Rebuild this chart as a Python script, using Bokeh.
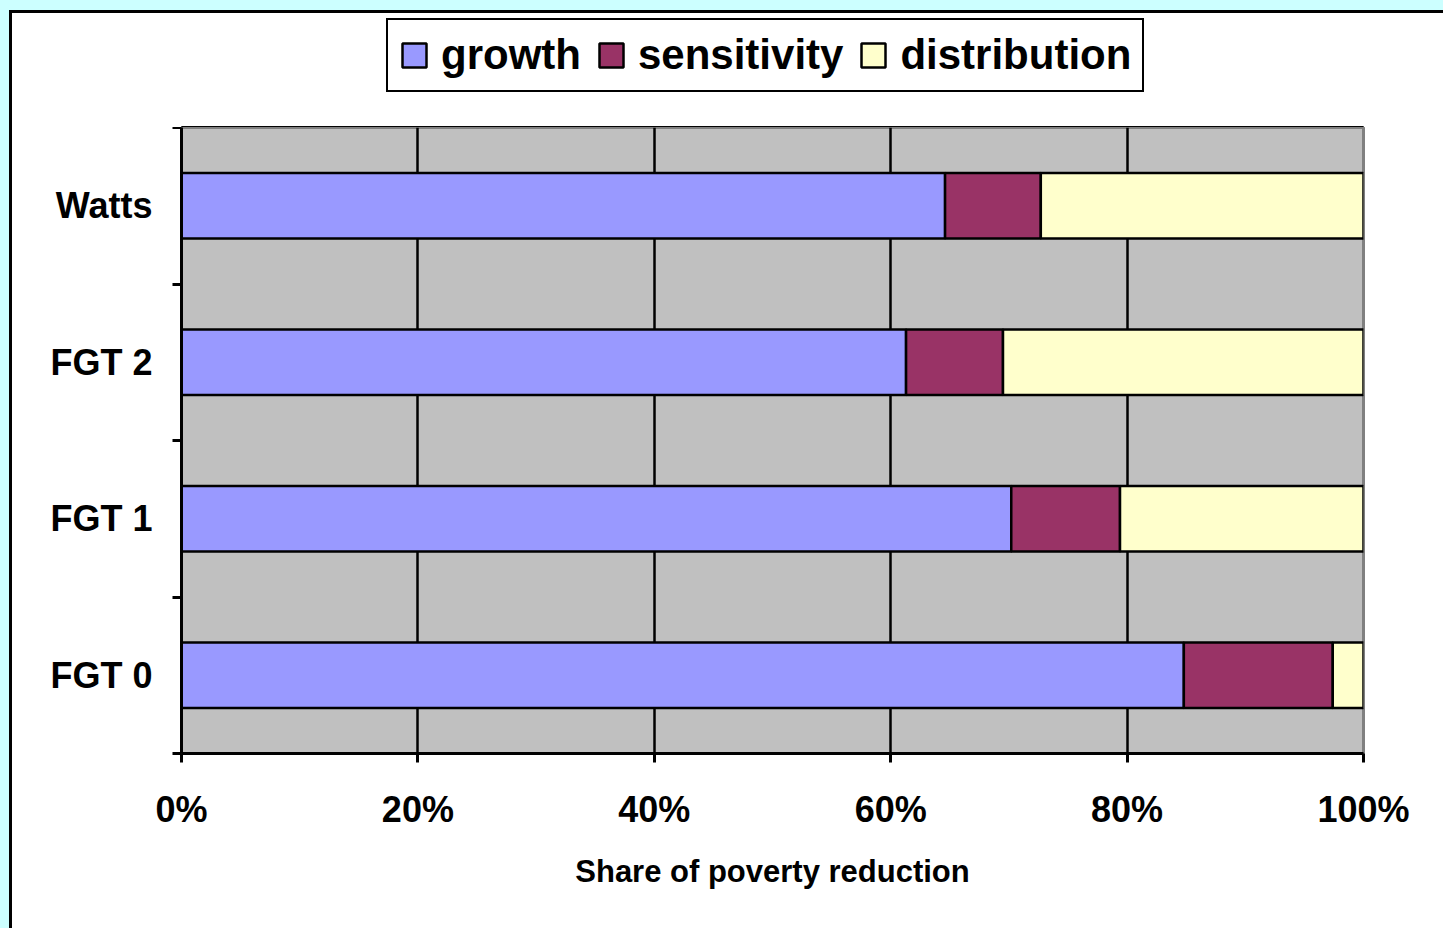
from bokeh.plotting import figure
from bokeh.layouts import column
from bokeh.models import (ColumnDataSource, FixedTicker, Legend, LegendItem,
                          Range1d)
from bokeh.embed import file_html
from bokeh.resources import INLINE

categories = ["FGT 0", "FGT 1", "FGT 2", "Watts"]
growth = [84.8, 70.2, 61.3, 64.6]
sensitivity = [12.6, 9.2, 8.2, 8.1]
distribution = [2.6, 20.6, 30.5, 27.3]
x_ticks = [0, 20, 40, 60, 80, 100]
series = ["growth", "sensitivity", "distribution"]
colors = ["#9999FF", "#993366", "#FFFFCC"]

ypos = [i + 0.5 for i in range(len(categories))]
src = ColumnDataSource(dict(y=ypos, growth=growth, sensitivity=sensitivity,
                            distribution=distribution))

FONT = "Liberation Sans"

# ---------- main chart ----------
p = figure(frame_width=1182, frame_height=626, x_range=Range1d(0, 100),
           y_range=Range1d(0, len(categories)), output_backend="svg",
           toolbar_location=None, min_border_left=169, min_border_right=80,
           min_border_top=0, min_border_bottom=175,
           background_fill_color="#C0C0C0", border_fill_color="white")
p.outline_line_color = "#808080"
p.outline_line_width = 3

rs = p.hbar_stack(series, y="y", height=0.42, color=colors, source=src,
                  line_color="black", line_width=2.5)

p.xaxis.ticker = FixedTicker(ticks=x_ticks)
p.xaxis.major_label_overrides = {t: f"{t}%" for t in x_ticks}
p.yaxis.ticker = FixedTicker(ticks=ypos, minor_ticks=list(range(len(categories) + 1)))
p.yaxis.major_label_overrides = {y: c for y, c in zip(ypos, categories)}

for ax in (p.xaxis[0], p.yaxis[0]):
    ax.axis_line_color = "black"
    ax.axis_line_width = 3
    ax.major_label_text_font = FONT
    ax.major_label_text_font_style = "bold"
    ax.major_label_text_font_size = "36px"
    ax.major_label_text_color = "black"

p.xaxis.major_tick_line_color = "black"
p.xaxis.major_tick_line_width = 3
p.xaxis.major_tick_out = 9
p.xaxis.major_tick_in = 0
p.xaxis.minor_tick_line_color = None
p.xaxis.major_label_standoff = 26
p.xaxis.axis_label = "Share of poverty reduction"
p.xaxis.axis_label_text_font = FONT
p.xaxis.axis_label_text_font_style = "bold"
p.xaxis.axis_label_text_font_size = "31px"
p.xaxis.axis_label_text_color = "black"
p.xaxis.axis_label_standoff = 21

p.yaxis.major_tick_line_color = None
p.yaxis.minor_tick_line_color = "black"
p.yaxis.minor_tick_line_width = 3
p.yaxis.minor_tick_out = 9
p.yaxis.minor_tick_in = 0
p.yaxis.major_label_standoff = 20

p.ygrid.grid_line_color = None
p.xgrid.ticker = FixedTicker(ticks=x_ticks[1:-1])
p.xgrid.grid_line_color = "black"
p.xgrid.grid_line_width = 2.5

# ---------- legend strip ----------
lg = figure(width=1431, height=114, output_backend="svg", toolbar_location=None,
            x_range=Range1d(0, 1), y_range=Range1d(0, 1),
            min_border=0, background_fill_color="white", border_fill_color="white")
lg.axis.visible = False
lg.grid.visible = False
lg.outline_line_color = None
# swatch renderers kept outside the visible range; only their legend glyphs show
hidden = ColumnDataSource(dict(y=[-10], left=[0], right=[1]))
lrs = [lg.hbar(y="y", left="left", right="right", height=0.5, source=hidden,
               fill_color=c, line_color="black", line_width=2.5) for c in colors]

legend = Legend(items=[LegendItem(label=s, renderers=[r]) for s, r in zip(series, lrs)],
                orientation="horizontal", location=(205, 35),
                label_text_font=FONT, label_text_font_style="bold",
                label_text_font_size="42px", label_text_color="black",
                glyph_width=30, glyph_height=30, label_standoff=12,
                spacing=15, padding=11, margin=0,
                border_line_color="black", border_line_width=2.5, border_line_alpha=1,
                background_fill_color="white", background_fill_alpha=1)
lg.add_layout(legend, "center")

layout = column(lg, p, spacing=0,
                styles={"position": "absolute", "left": "9px", "top": "10px",
                        "border-left": "3px solid black", "border-top": "3px solid black",
                        "background-color": "white"})

html = file_html(layout, INLINE)
html = html.replace("<head>", "<head><style>html,body{margin:0;padding:0;overflow:hidden;background:#CCFFFF;}</style>", 1)
open("out.html", "w").write(html)
